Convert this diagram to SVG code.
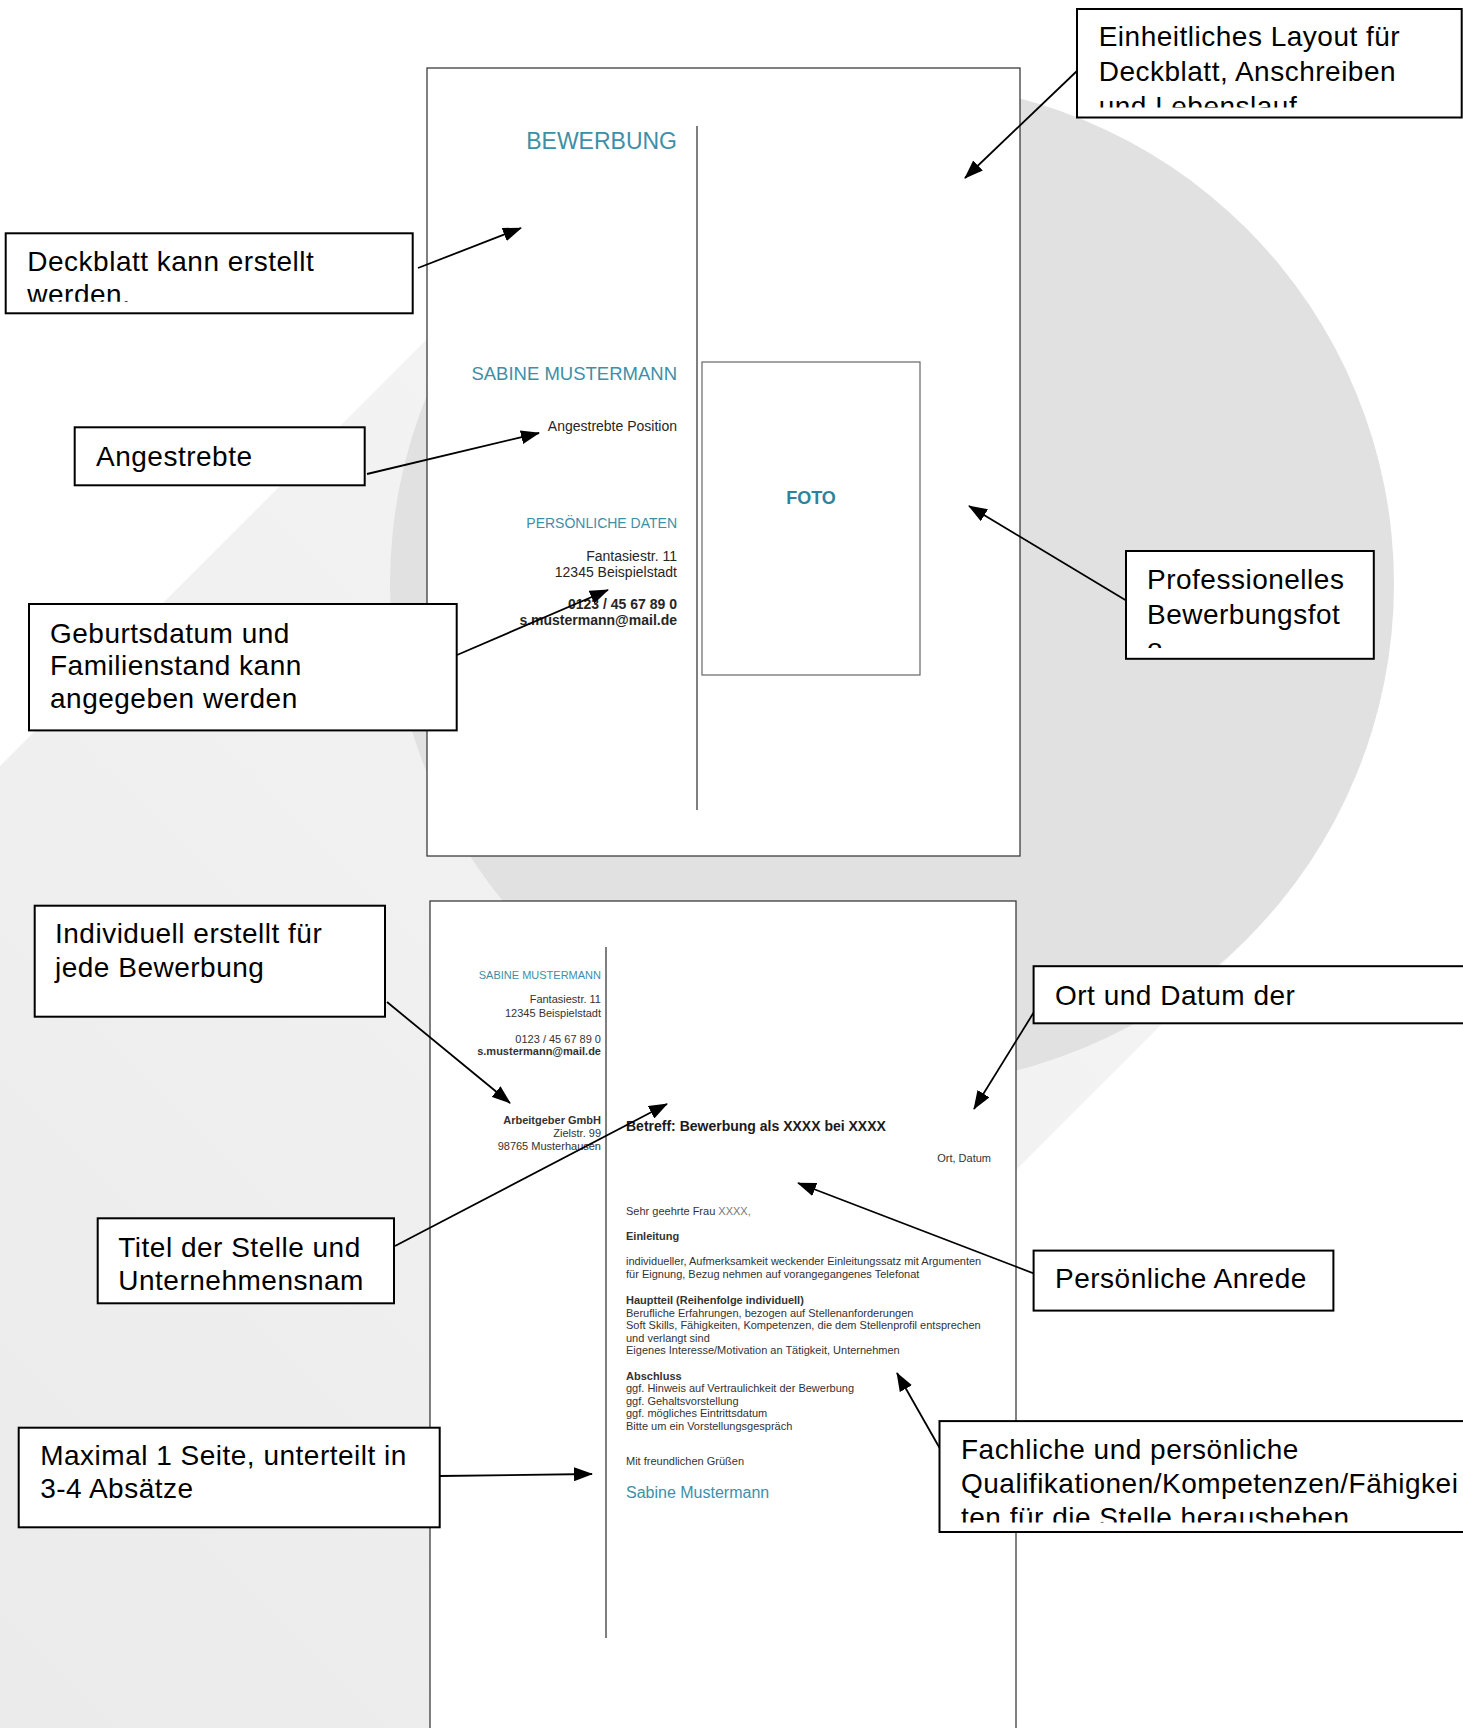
<svg xmlns="http://www.w3.org/2000/svg" width="1463" height="1728" viewBox="0 0 1463 1728">
<style>
text{font-family:'Liberation Sans',Arial,sans-serif}
.page{fill:#fff;stroke:#3c3c3c;stroke-width:1.3}
.div{stroke:#555;stroke-width:1.5}
.teal{fill:#3d8fa7}
.dk{fill:#262626}
.box{fill:#fff;stroke:#000;stroke-width:2}
.bt{font-size:28px;letter-spacing:0.5px;fill:#000}
.conn{stroke:#000;stroke-width:1.8;fill:none;marker-end:url(#ah)}
.lt{font-size:11px;fill:#333}
.s11{font-size:11px}
.b{font-weight:bold}
.end{text-anchor:end}
</style>
<defs>
<marker id="ah" markerUnits="userSpaceOnUse" markerWidth="19" markerHeight="14" viewBox="0 0 19 14" refX="18" refY="7" orient="auto"><path d="M0,0 L19,7 L0,14 z" fill="#000"/></marker>
<linearGradient id="bandg" gradientUnits="userSpaceOnUse" x1="892" y1="584" x2="-200" y2="1676"><stop offset="0" stop-color="#f4f4f4"/><stop offset="1" stop-color="#eaeaea"/></linearGradient>
<clipPath id="cA"><rect x="1077" y="9" width="386" height="98.5"/></clipPath>
<clipPath id="cB"><rect x="5" y="233" width="408" height="68.7"/></clipPath>
<clipPath id="cE"><rect x="1126" y="551" width="248" height="97"/></clipPath>
<clipPath id="cK"><rect x="939" y="1421" width="524" height="101.5"/></clipPath>
</defs>
<rect x="0" y="0" width="1463" height="1728" fill="#fff"/>
<g id="background">
<polygon points="537,229 1247,939 -753,2939 -1463,2229" fill="url(#bandg)"/>
<circle cx="892" cy="584" r="502" fill="#e1e1e1"/>
</g>
<g id="page1">
<rect class="page" x="427" y="68" width="593" height="788"/>
<line class="div" x1="697" y1="126" x2="697" y2="810"/>
<text class="teal end" x="677" y="149" font-size="23">BEWERBUNG</text>
<text class="teal end" x="677" y="380" font-size="18.5">SABINE MUSTERMANN</text>
<text class="dk end" x="677" y="431" font-size="14">Angestrebte Position</text>
<text class="teal end" x="677" y="528" font-size="14">PERSÖNLICHE DATEN</text>
<text class="dk end" x="677" y="561" font-size="14">Fantasiestr. 11</text>
<text class="dk end" x="677" y="577" font-size="14">12345 Beispielstadt</text>
<text class="dk end b" x="677" y="609" font-size="14">0123 / 45 67 89 0</text>
<text class="dk end b" x="677" y="625" font-size="14">s.mustermann@mail.de</text>
<rect x="702" y="362" width="218" height="313" fill="#fff" stroke="#666" stroke-width="1.2"/>
<text x="811" y="504" font-size="18" font-weight="bold" fill="#30829a" text-anchor="middle">FOTO</text>
</g>
<g id="page2">
<rect class="page" x="430" y="901" width="586" height="880"/>
<line class="div" x1="606" y1="947" x2="606" y2="1638"/>
<text class="teal end s11" x="601" y="979">SABINE MUSTERMANN</text>
<text class="lt end" x="601" y="1003">Fantasiestr. 11</text>
<text class="lt end" x="601" y="1016.7">12345 Beispielstadt</text>
<text class="lt end" x="601" y="1042.7">0123 / 45 67 89 0</text>
<text class="lt end b" x="601" y="1055.3">s.mustermann@mail.de</text>
<text class="lt end b" x="601" y="1124">Arbeitgeber GmbH</text>
<text class="lt end" x="601" y="1136.7">Zielstr. 99</text>
<text class="lt end" x="601" y="1150">98765 Musterhausen</text>
<text x="626" y="1130.5" font-size="14" font-weight="bold" fill="#1a1a1a">Betreff: Bewerbung als XXXX bei XXXX</text>
<text class="lt end" x="991" y="1162">Ort, Datum</text>
<text class="lt" x="626" y="1215">Sehr geehrte Frau <tspan fill="#777">XXXX,</tspan></text>
<text class="lt b" x="626" y="1240">Einleitung</text>
<text class="lt" x="626" y="1265">individueller, Aufmerksamkeit weckender Einleitungssatz mit Argumenten</text>
<text class="lt" x="626" y="1278.3">für Eignung, Bezug nehmen auf vorangegangenes Telefonat</text>
<text class="lt b" x="626" y="1304">Hauptteil (Reihenfolge individuell)</text>
<text class="lt" x="626" y="1316.5">Berufliche Erfahrungen, bezogen auf Stellenanforderungen</text>
<text class="lt" x="626" y="1329">Soft Skills, Fähigkeiten, Kompetenzen, die dem Stellenprofil entsprechen</text>
<text class="lt" x="626" y="1341.5">und verlangt sind</text>
<text class="lt" x="626" y="1354">Eigenes Interesse/Motivation an Tätigkeit, Unternehmen</text>
<text class="lt b" x="626" y="1379.5">Abschluss</text>
<text class="lt" x="626" y="1392">ggf. Hinweis auf Vertraulichkeit der Bewerbung</text>
<text class="lt" x="626" y="1404.5">ggf. Gehaltsvorstellung</text>
<text class="lt" x="626" y="1417">ggf. mögliches Eintrittsdatum</text>
<text class="lt" x="626" y="1429.5">Bitte um ein Vorstellungsgespräch</text>
<text class="lt" x="626" y="1465">Mit freundlichen Grüßen</text>
<text class="teal" x="626" y="1498" font-size="16">Sabine Mustermann</text>
</g>
<g id="connectors">
<line class="conn" x1="1078" y1="70" x2="965" y2="178"/>
<line class="conn" x1="418" y1="268" x2="521" y2="228"/>
<line class="conn" x1="367" y1="474" x2="539" y2="433"/>
<line class="conn" x1="457" y1="655" x2="608" y2="590"/>
<line class="conn" x1="1127" y1="601" x2="969" y2="506"/>
<line class="conn" x1="387" y1="1002" x2="510" y2="1103"/>
<line class="conn" x1="1034" y1="1012" x2="974" y2="1109"/>
<line class="conn" x1="395" y1="1246" x2="667" y2="1104"/>
<line class="conn" x1="1043" y1="1277" x2="798" y2="1183"/>
<line class="conn" x1="440" y1="1476" x2="592" y2="1474"/>
<line class="conn" x1="947" y1="1461" x2="897" y2="1373"/>
</g>
<g id="box-layout">
<rect class="box" x="1077" y="9" width="384.7" height="108.5"/>
<g clip-path="url(#cA)">
<text class="bt" x="1098.7" y="45.7">Einheitliches Layout für</text>
<text class="bt" x="1098.7" y="80.5">Deckblatt, Anschreiben</text>
<text class="bt" x="1098.7" y="115.5">und Lebenslauf</text>
</g>
</g>
<g id="box-deckblatt">
<rect class="box" x="5.7" y="233.3" width="407" height="80"/>
<g clip-path="url(#cB)">
<text class="bt" x="27.3" y="270.7">Deckblatt kann erstellt</text>
<text class="bt" x="27.3" y="303.5">werden.</text>
</g>
</g>
<g id="box-angestrebte">
<rect class="box" x="74.7" y="427.3" width="290" height="58"/>
<text class="bt" x="96" y="465.7">Angestrebte</text>
</g>
<g id="box-geburtsdatum">
<rect class="box" x="29" y="604" width="427.7" height="126.4"/>
<text class="bt" x="50" y="642.7">Geburtsdatum und</text>
<text class="bt" x="50" y="675">Familienstand kann</text>
<text class="bt" x="50" y="708">angegeben werden</text>
</g>
<g id="box-foto">
<rect class="box" x="1126" y="551" width="247.8" height="107.8"/>
<g clip-path="url(#cE)">
<text class="bt" x="1147" y="589.4">Professionelles</text>
<text class="bt" x="1147" y="623.6">Bewerbungsfot</text>
<text class="bt" x="1147" y="657.7">o</text>
</g>
</g>
<g id="box-individuell">
<rect class="box" x="34.7" y="905.7" width="350.3" height="111"/>
<text class="bt" x="55" y="943.3">Individuell erstellt für</text>
<text class="bt" x="55" y="977.3">jede Bewerbung</text>
</g>
<g id="box-ort">
<rect class="box" x="1033.6" y="966.2" width="440" height="57.1"/>
<text class="bt" x="1055" y="1004.6">Ort und Datum der</text>
</g>
<g id="box-titel">
<rect class="box" x="97.7" y="1218.3" width="296.3" height="85"/>
<text class="bt" x="118.3" y="1256.7">Titel der Stelle und</text>
<text class="bt" x="118.3" y="1290">Unternehmensnam</text>
</g>
<g id="box-anrede">
<rect class="box" x="1033.6" y="1250.6" width="299.8" height="60"/>
<text class="bt" x="1055" y="1288.3">Persönliche Anrede</text>
</g>
<g id="box-maximal">
<rect class="box" x="18.7" y="1427.7" width="421" height="99.6"/>
<text class="bt" x="40.2" y="1465">Maximal 1 Seite, unterteilt in</text>
<text class="bt" x="40.2" y="1498.3">3-4 Absätze</text>
</g>
<g id="box-fachliche">
<rect class="box" x="939.5" y="1421.1" width="540" height="110.9"/>
<g clip-path="url(#cK)">
<text class="bt" x="961" y="1458.9">Fachliche und persönliche</text>
<text class="bt" x="961" y="1493">Qualifikationen/Kompetenzen/Fähigkei</text>
<text class="bt" x="961" y="1527">ten für die Stelle herausheben</text>
</g>
</g>
</svg>
